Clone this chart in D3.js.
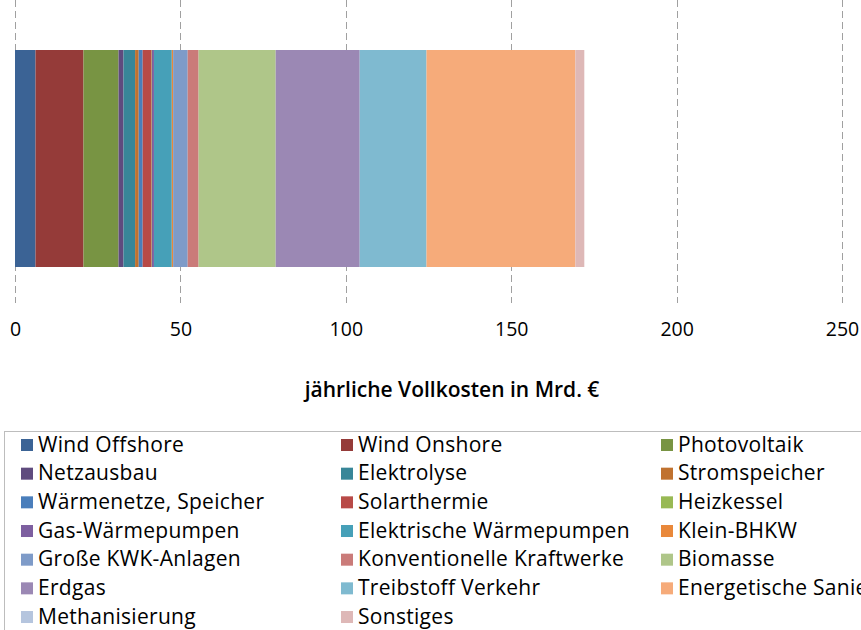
<!DOCTYPE html>
<html>
<head>
<meta charset="utf-8">
<script src="https://cdn.jsdelivr.net/npm/d3@7"></script>
<style>
  body { margin: 0; background: #fff; }
  svg { display: block; font-family: "Open Sans", "Noto Sans", sans-serif; }
</style>
</head>
<body>
<div id="chart"></div>
<script>
// categories (stack order = legend order)
const categories = [
  'Wind Offshore', 'Wind Onshore', 'Photovoltaik',
  'Netzausbau', 'Elektrolyse', 'Stromspeicher',
  'Wärmenetze, Speicher', 'Solarthermie', 'Heizkessel',
  'Gas-Wärmepumpen', 'Elektrische Wärmepumpen', 'Klein-BHKW',
  'Große KWK-Anlagen', 'Konventionelle Kraftwerke', 'Biomasse',
  'Erdgas', 'Treibstoff Verkehr', 'Energetische Sanierung',
  'Methanisierung', 'Sonstiges'
];
// annual full costs in bn €
const values = [
  6.2, 14.5, 10.6,
  1.5, 3.5, 1.1,
  1.2, 2.7, 0.1,
  0.6, 5.4, 0.4,
  4.4, 3.3, 23.3,
  25.4, 20.2, 45.0,
  0, 2.7
];
const colors = [
  '#3b6395', '#953b39', '#789443',
  '#5f4b7e', '#388698', '#c0722f',
  '#4a7ebb', '#b84a47', '#98b954',
  '#7d5fa0', '#46a0b8', '#e9883a',
  '#7e9bc8', '#ca7b79', '#afc689',
  '#9b88b4', '#7fbad0', '#f6ab7a',
  '#b5c5de', '#deb8b7'
];
const xTicks = [0, 50, 100, 150, 200, 250];
const barLabel = ['Szenario'];

const width = 861;
const height = 630;

const svg = d3.select('#chart')
  .append('svg')
  .attr('width', width)
  .attr('height', height);

const xScale = d3.scaleLinear().domain([0, 250]).range([15, 842]);
const yScale = d3.scaleBand().domain(barLabel).range([50, 267]).padding(0);

// gridlines, dashed
svg.append('g')
  .selectAll('line')
  .data(xTicks)
  .join('line')
  .attr('x1', d => Math.round(xScale(d)) + 0.5)
  .attr('x2', d => Math.round(xScale(d)) + 0.5)
  .attr('y1', 0)
  .attr('y2', 303)
  .attr('stroke', '#a0a0a0')
  .attr('stroke-width', 1)
  .attr('stroke-dasharray', '7,4');

// stacked segments
const stackData = [Object.fromEntries(categories.map((c, i) => [c, values[i]]))];
const series = d3.stack().keys(categories)(stackData);

svg.append('g')
  .selectAll('rect')
  .data(series)
  .join('rect')
  .attr('x', d => xScale(d[0][0]))
  .attr('width', d => xScale(d[0][1]) - xScale(d[0][0]))
  .attr('y', yScale(barLabel[0]))
  .attr('height', yScale.bandwidth())
  .attr('fill', (d, i) => colors[i]);

// tick labels
const xAxis = svg.append('g')
  .attr('transform', 'translate(0,322)')
  .call(d3.axisBottom(xScale).tickValues(xTicks).tickSize(0).tickPadding(0));
xAxis.select('.domain').remove();
xAxis.selectAll('text')
  .attr('font-family', '"Open Sans", sans-serif')
  .attr('font-size', 19.5)
  .attr('fill', '#000');

// axis title
svg.append('text')
  .attr('x', 452)
  .attr('y', 397)
  .attr('text-anchor', 'middle')
  .attr('font-size', 21)
  .attr('font-weight', 600)
  .text('jährliche Vollkosten in Mrd. €');

// legend
svg.append('rect')
  .attr('x', 4.5)
  .attr('y', 431.5)
  .attr('width', 900)
  .attr('height', 220)
  .attr('fill', 'none')
  .attr('stroke', '#bdbdbd');

const legend = svg.append('g')
  .selectAll('g')
  .data(categories)
  .join('g')
  .attr('transform', (d, i) => `translate(${21 + (i % 3) * 320},${439 + Math.floor(i / 3) * 28.67})`);

legend.append('rect')
  .attr('width', 12)
  .attr('height', 12)
  .attr('fill', (d, i) => colors[i]);

legend.append('text')
  .attr('x', 17)
  .attr('y', 12.5)
  .attr('font-size', 21)
  .attr('letter-spacing', 0.3)
  .attr('fill', '#000')
  .text(d => d);
</script>
</body>
</html>
